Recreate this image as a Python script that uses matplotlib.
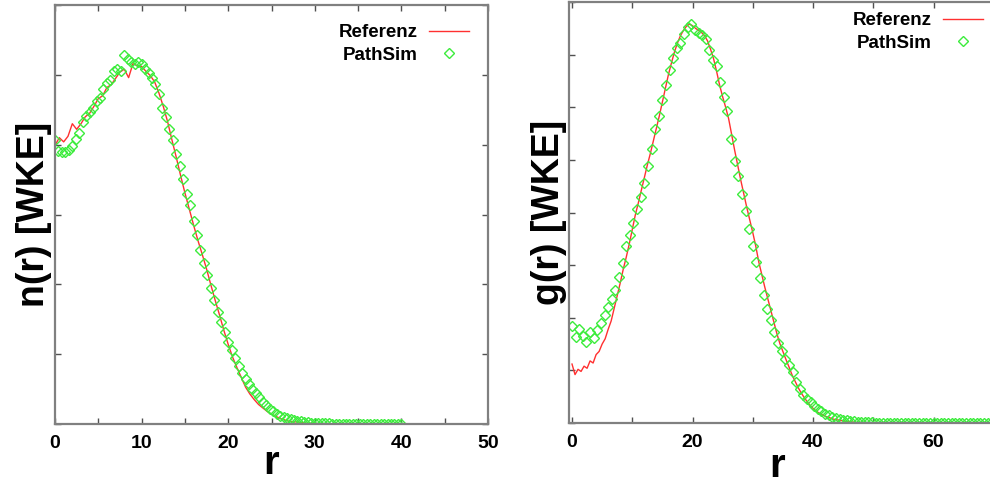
import matplotlib
matplotlib.use("Agg")
import matplotlib.pyplot as plt
import numpy as np

plt.rcParams['font.family'] = ['Liberation Sans', 'DejaVu Sans']
plt.rcParams['font.weight'] = 'bold'

RED = '#ff3030'
GREEN = '#3cec3c'
FRAME = '#808080'

# n(r): reference curve, sampled every 0.5 in r
n_ref = [
    3.99, 4.10, 4.04, 4.12, 4.30, 4.22, 4.30, 4.40, 4.45, 4.55,
    4.66, 4.70, 4.82, 4.86, 4.95, 5.04, 5.08, 4.96, 5.16, 5.13,
    5.12, 5.05, 4.99, 4.90, 4.74, 4.55, 4.33, 4.07, 3.82, 3.56,
    3.31, 3.08, 2.85, 2.63, 2.43, 2.22, 1.99, 1.77, 1.56, 1.34,
    1.14, 0.96, 0.81, 0.67, 0.53, 0.43, 0.35, 0.28, 0.23, 0.18,
    0.14, 0.11, 0.08, 0.06, 0.04, 0.03, 0.03, 0.02, 0.01, 0.01,
    0.01, 0.00, 0.00, 0.00, 0.00, 0.00, 0.00, 0.00, 0.00, 0.00,
    0.00, 0.00, 0.00, 0.00, 0.00, 0.00, 0.00, 0.00, 0.00, 0.00,
    0.00, 0.00, 0.00, 0.00, 0.00, 0.00, 0.00, 0.00, 0.00, 0.00,
    0.00, 0.00, 0.00, 0.00, 0.00, 0.00, 0.00, 0.00, 0.00, 0.00,
    0.00,
]
# n(r): PathSim, sampled every 0.4 in r
n_sim = [
    4.06, 3.91, 3.89, 3.90, 3.93, 3.98, 4.08, 4.16, 4.32, 4.41,
    4.47, 4.53, 4.63, 4.67, 4.80, 4.89, 4.92, 5.05, 5.08, 5.06,
    5.29, 5.22, 5.18, 5.16, 5.18, 5.15, 5.08, 5.03, 4.95, 4.87,
    4.72, 4.53, 4.39, 4.22, 4.06, 3.87, 3.70, 3.51, 3.30, 3.13,
    2.91, 2.70, 2.49, 2.30, 2.13, 1.95, 1.77, 1.60, 1.46, 1.32,
    1.18, 1.06, 0.94, 0.83, 0.73, 0.65, 0.57, 0.50, 0.44, 0.38,
    0.32, 0.27, 0.22, 0.19, 0.15, 0.12, 0.10, 0.09, 0.07, 0.06,
    0.05, 0.04, 0.03, 0.03, 0.02, 0.02, 0.02, 0.01, 0.01, 0.01,
    0.00, 0.00, 0.00, 0.00, 0.00, 0.00, 0.00, 0.00, 0.00, 0.00,
    0.00, 0.00, 0.00, 0.00, 0.00, 0.00, 0.00, 0.00, 0.00, 0.00,
    0.00,
]

# g(r): reference curve, sampled every 0.5 in r
g_ref = [
    1.12, 0.92, 1.02, 0.98, 1.08, 1.04, 1.18, 1.14, 1.30, 1.36,
    1.50, 1.60, 1.78, 1.94, 2.18, 2.42, 2.66, 2.92, 3.15, 3.40,
    3.68, 3.95, 4.18, 4.42, 4.66, 4.90, 5.12, 5.36, 5.60, 5.84,
    6.10, 6.36, 6.62, 6.84, 7.05, 7.22, 7.36, 7.46, 7.54, 7.58,
    7.55, 7.50, 7.46, 7.42, 7.36, 7.26, 7.10, 6.92, 6.68, 6.42,
    6.20, 6.00, 5.78, 5.48, 5.18, 4.90, 4.62, 4.36, 4.10, 3.86,
    3.62, 3.36, 3.06, 2.82, 2.58, 2.36, 2.14, 1.92, 1.70, 1.51,
    1.36, 1.21, 1.07, 0.92, 0.80, 0.68, 0.58, 0.49, 0.41, 0.34,
    0.28, 0.23, 0.19, 0.16, 0.13, 0.11, 0.09, 0.07, 0.06, 0.05,
    0.04, 0.03, 0.02, 0.02, 0.01, 0.01, 0.01, 0.00, 0.00, 0.00,
    0.00, 0.00, 0.00, 0.00, 0.00, 0.00, 0.00, 0.00, 0.00, 0.00,
    0.00, 0.00, 0.00, 0.00, 0.00, 0.00, 0.00, 0.00, 0.00, 0.00,
    0.00, 0.00, 0.00, 0.00, 0.00, 0.00, 0.00, 0.00, 0.00, 0.00,
    0.00, 0.00, 0.00, 0.00, 0.00, 0.00, 0.00, 0.00, 0.00, 0.00,
    0.00, 0.00, 0.00, 0.00, 0.00, 0.00, 0.00, 0.00, 0.00, 0.00,
    0.00, 0.00, 0.00, 0.00, 0.00, 0.00, 0.00, 0.00, 0.00, 0.00,
    0.00,
]
# g(r): PathSim, sampled every 0.6 in r
g_sim = [
    1.85, 1.63, 1.78, 1.66, 1.54, 1.72, 1.62, 1.76, 1.90, 2.05,
    2.20, 2.36, 2.52, 2.78, 3.04, 3.36, 3.58, 3.80, 4.06, 4.30,
    4.57, 4.88, 5.20, 5.58, 5.84, 6.13, 6.42, 6.70, 6.94, 7.12,
    7.23, 7.40, 7.52, 7.58, 7.46, 7.42, 7.38, 7.30, 7.08, 6.90,
    6.78, 6.48, 6.20, 5.92, 5.40, 4.98, 4.70, 4.36, 4.02, 3.69,
    3.36, 3.05, 2.75, 2.44, 2.16, 1.95, 1.72, 1.52, 1.36, 1.22,
    1.11, 0.97, 0.77, 0.64, 0.54, 0.46, 0.40, 0.33, 0.27, 0.22,
    0.18, 0.15, 0.12, 0.09, 0.07, 0.06, 0.05, 0.04, 0.03, 0.02,
    0.02, 0.01, 0.01, 0.01, 0.00, 0.00, 0.00, 0.00, 0.00, 0.00,
    0.00, 0.00, 0.00, 0.00, 0.00, 0.00, 0.00, 0.00, 0.00, 0.00,
    0.00, 0.00, 0.00, 0.00, 0.00, 0.00, 0.00, 0.00, 0.00, 0.00,
    0.00, 0.00, 0.00, 0.00, 0.00, 0.00, 0.00, 0.00, 0.00, 0.00,
    0.00, 0.00, 0.00, 0.00, 0.00, 0.00, 0.00, 0.00, 0.00, 0.00,
    0.00, 0.00, 0.00, 0.00,
]

n_xticks = [0, 10, 20, 30, 40, 50]
g_xticks = [0, 20, 40, 60]

LEGEND_OPTS = dict(frameon=False, markerfirst=False, numpoints=1,
                   handlelength=2.1, handletextpad=0.6, borderpad=0,
                   borderaxespad=0, labelspacing=0.3,
                   prop={'size': 13.5, 'weight': 'bold'})


def style_axes(ax):
    for sp in ax.spines.values():
        sp.set_color(FRAME)
        sp.set_linewidth(1.6)
    ax.tick_params(which='both', direction='in', length=4, width=1,
                   color='#505050', top=True, right=True,
                   labelsize=14, pad=8)
    ax.set_yticklabels([])
    for lab in ax.get_xticklabels():
        lab.set_fontweight('bold')


def draw_panel(ax, ref, ref_step, sim, sim_step):
    r_ref = ref_step * np.arange(len(ref))
    r_sim = sim_step * np.arange(len(sim))
    ax.plot(r_ref, ref, color=RED, lw=1.0, label='Referenz')
    ax.plot(r_sim, sim, ls='none', marker='D', ms=5, mfc='none',
            mec=GREEN, mew=1.0, label='PathSim')


fig = plt.figure(figsize=(9.9, 4.87), dpi=100)

# left panel: n(r)
ax1 = fig.add_axes([55 / 990, 63 / 487, 433 / 990, 419 / 487])
draw_panel(ax1, n_ref, 0.5, n_sim, 0.4)
ax1.set_xlim(0, 50)
ax1.set_ylim(0, 6)
ax1.set_xticks(n_xticks)
ax1.set_xticks(np.arange(0, 51, 5), minor=True)
ax1.set_yticks(np.arange(0, 7, 1))
style_axes(ax1)
ax1.set_xlabel('r', fontsize=29, fontweight='bold', labelpad=-5.5)
ax1.set_ylabel('n(r) [WKE]', fontsize=27, fontweight='bold', labelpad=-6)
ax1.legend(loc='upper left', bbox_to_anchor=(339 / 990, 1 - 24 / 487),
           bbox_transform=fig.transFigure, **LEGEND_OPTS)

# right panel: g(r), runs past the right edge of the figure
ax2 = fig.add_axes([569 / 990, 64 / 487, 485 / 990, 421 / 487])
draw_panel(ax2, g_ref, 0.5, g_sim, 0.6)
ax2.set_xlim(-0.5, 80)
ax2.set_ylim(0, 8)
ax2.set_xticks(g_xticks)
ax2.set_xticks(np.arange(0, 81, 10), minor=True)
ax2.set_yticks(np.arange(0, 9, 1))
style_axes(ax2)
ax2.set_xlabel('r', fontsize=29, fontweight='bold')
# the axis is wider than the visible area, so centre the label on what shows
ax2.xaxis.set_label_coords(0.429, -0.057)
ax2.set_ylabel('g(r) [WKE]', fontsize=27, fontweight='bold', labelpad=-6.6)
ax2.legend(loc='upper left', bbox_to_anchor=(853 / 990, 1 - 12 / 487),
           bbox_transform=fig.transFigure, **LEGEND_OPTS)

fig.savefig('out.png', dpi=100, facecolor='white')
